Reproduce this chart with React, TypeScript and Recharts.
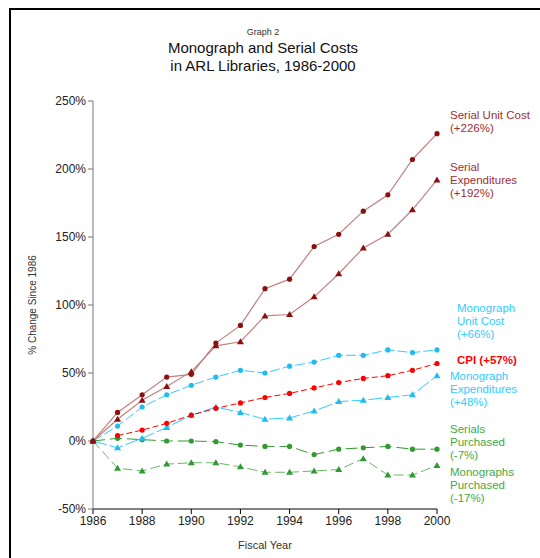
import React from 'react';
import { LineChart, Line, XAxis, YAxis } from 'recharts';

const years = [1986, 1987, 1988, 1989, 1990, 1991, 1992, 1993, 1994, 1995, 1996, 1997, 1998, 1999, 2000];

const serialUnitCost = [0, 21, 34, 47, 49, 72, 85, 112, 119, 143, 152, 169, 181, 207, 226];
const serialExpenditures = [0, 16, 30, 40, 51, 70, 73, 92, 93, 106, 123, 142, 152, 170, 192];
const monographUnitCost = [0, 11, 25, 34, 41, 47, 52, 50, 55, 58, 63, 63, 67, 65, 67];
const monographExpenditures = [0, -5, 2, 10, 19, 25, 21, 16, 17, 22, 29, 30, 32, 34, 48];
const cpi = [null, 4, 8, 13, 19, 24, 28, 32, 35, 39, 43, 46, 48, 52, 57];
const serialsPurchased = [0, 2, 1, 0, 0, -0.5, -3, -4, -4, -10, -6, -5, -4, -6, -6];
const monographsPurchased = [0, -20, -22, -17, -16, -16, -19, -23, -23, -22, -21, -13, -25, -25, -18];

const yTicks = [-50, 0, 50, 100, 150, 200, 250];
const xTicks = [1986, 1988, 1990, 1992, 1994, 1996, 1998, 2000];

const rows = years.map((year, i) => ({
  year,
  suc: serialUnitCost[i],
  se: serialExpenditures[i],
  muc: monographUnitCost[i],
  me: monographExpenditures[i],
  cpi: cpi[i],
  sp: serialsPurchased[i],
  mp: monographsPurchased[i],
}));

const FONT = '"Liberation Sans", Arial, sans-serif';

const makeDot = (shape: 'circle' | 'triangle', color: string) => (props: any) => {
  const { cx, cy, index } = props;
  if (cx == null || cy == null || props.value == null) return <g key={index} />;
  if (shape === 'triangle') {
    return (
      <path
        key={index}
        d={`M${cx},${cy - 3.5} L${cx + 3.5},${cy + 2.5} L${cx - 3.5},${cy + 2.5} Z`}
        fill={color}
      />
    );
  }
  return <circle key={index} cx={cx} cy={cy} r={2.6} fill={color} />;
};

const labelStyle = (x: number, y: number, color: string, bold = false): React.CSSProperties => ({
  position: 'absolute',
  left: x,
  top: y,
  color,
  fontFamily: FONT,
  fontSize: 11.5,
  lineHeight: '13px',
  fontWeight: bold ? 'bold' : 'normal',
  whiteSpace: 'nowrap',
});

export default function App() {
  const darkRed = '#8b1010';
  const rose = '#c48080';
  const cyan = '#33ccff';
  const red = '#ff0000';
  const green = '#339933';
  const lightGreen = '#66bb66';

  return (
    <div
      style={{
        position: 'absolute',
        left: 0,
        top: 0,
        width: 540,
        height: 558,
        overflow: 'hidden',
        background: '#fff',
        fontFamily: FONT,
      }}
    >
      <div
        style={{
          position: 'absolute',
          left: 9,
          top: 8,
          width: 560,
          height: 580,
          border: '2px solid #000',
        }}
      />
      <div style={{ position: 'absolute', left: 0, width: 526, top: 27, textAlign: 'center', fontSize: 9, color: '#333' }}>
        Graph 2
      </div>
      <div
        style={{
          position: 'absolute',
          left: 0,
          width: 526,
          top: 39,
          textAlign: 'center',
          fontSize: 15,
          lineHeight: '18px',
          color: '#111',
        }}
      >
        Monograph and Serial Costs
        <br />
        in ARL Libraries, 1986-2000
      </div>

      <LineChart
        width={540}
        height={558}
        data={rows}
        margin={{ top: 101, right: 103, bottom: 0, left: 0 }}
        style={{ position: 'absolute', left: 0, top: 0 }}
      >
        <XAxis
          dataKey="year"
          type="number"
          domain={[1986, 2000]}
          ticks={xTicks}
          height={49}
          stroke="#000"
          tickSize={5}
          tick={{ fill: '#222', fontSize: 12, fontFamily: FONT }}
          label={{ value: 'Fiscal Year', position: 'insideBottom', offset: 9, fill: '#333', fontSize: 11, fontFamily: FONT }}
        />
        <YAxis
          type="number"
          domain={[-50, 250]}
          ticks={yTicks}
          width={93}
          stroke="#777"
          tickSize={5}
          tickFormatter={(v: number) => `${v}%`}
          tick={{ fill: '#222', fontSize: 12, fontFamily: FONT }}
          label={{
            value: '% Change Since 1986',
            angle: -90,
            position: 'insideLeft',
            offset: 32,
            fill: '#333',
            fontSize: 10,
            fontFamily: FONT,
            style: { textAnchor: 'middle' },
          }}
        />
        <Line dataKey="mp" stroke={lightGreen} strokeWidth={1} strokeDasharray="10 4" dot={makeDot('triangle', green)} isAnimationActive={false} />
        <Line dataKey="sp" stroke={green} strokeWidth={1} strokeDasharray="12 5" dot={makeDot('circle', green)} isAnimationActive={false} />
        <Line dataKey="me" stroke={cyan} strokeWidth={1} strokeDasharray="14 3" dot={makeDot('triangle', '#22bbee')} isAnimationActive={false} />
        <Line dataKey="muc" stroke={cyan} strokeWidth={1} strokeDasharray="10 3" dot={makeDot('circle', '#22bbee')} isAnimationActive={false} />
        <Line dataKey="cpi" stroke={red} strokeWidth={1} strokeDasharray="6 3" dot={makeDot('circle', red)} isAnimationActive={false} />
        <Line dataKey="se" stroke={rose} strokeWidth={1.2} dot={makeDot('triangle', darkRed)} isAnimationActive={false} />
        <Line dataKey="suc" stroke={rose} strokeWidth={1.2} dot={makeDot('circle', darkRed)} isAnimationActive={false} />
      </LineChart>

      <div style={labelStyle(450, 109, '#a03030')}>
        Serial Unit Cost
        <br />
        (+226%)
      </div>
      <div style={labelStyle(450, 161, '#a03030')}>
        Serial
        <br />
        Expenditures
        <br />
        (+192%)
      </div>
      <div style={labelStyle(457, 302, cyan)}>
        Monograph
        <br />
        Unit Cost
        <br />
        (+66%)
      </div>
      <div style={labelStyle(457, 354, red, true)}>CPI (+57%)</div>
      <div style={labelStyle(450, 370, cyan)}>
        Monograph
        <br />
        Expenditures
        <br />
        (+48%)
      </div>
      <div style={labelStyle(450, 423, '#44aa44')}>
        Serials
        <br />
        Purchased
        <br />
        (-7%)
      </div>
      <div style={labelStyle(450, 466, '#44aa44')}>
        Monographs
        <br />
        Purchased
        <br />
        (-17%)
      </div>
    </div>
  );
}
